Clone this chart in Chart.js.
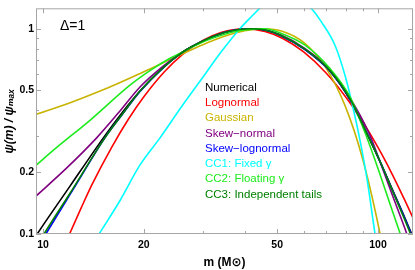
<!DOCTYPE html>
<html>
<head>
<meta charset="utf-8">
<script src="https://cdn.jsdelivr.net/npm/chart.js@4.4.1/dist/chart.umd.min.js"></script>
<style>
  html, body { margin: 0; padding: 0; background: #fff; }
</style>
</head>
<body>
<canvas id="chart" width="415" height="270"></canvas>
<script>
// values (m in solar masses, psi / psi_max)
const numericalM   = [9.3, 9.53, 12.04, 15.14, 17.2, 19.48, 22.8, 26.2, 30, 33, 36.2, 41.5, 46, 51, 60.6, 71.9, 82.5, 92.5, 101.4, 110, 120, 127];
const numericalPsi = [0.092, 0.098, 0.171, 0.294, 0.389, 0.497, 0.645, 0.772, 0.87, 0.93, 0.975, 1.0, 0.984, 0.93, 0.79, 0.62, 0.45, 0.31, 0.225, 0.167, 0.121, 0.097];

const lognormalM   = [11.5, 12, 13, 14, 16, 18, 20, 23, 26, 30, 34, 40, 46, 52, 60, 70, 80, 90, 100, 110, 120, 128];
const lognormalPsi = [0.085, 0.1, 0.134, 0.174, 0.263, 0.363, 0.466, 0.615, 0.745, 0.877, 0.959, 1.0, 0.969, 0.896, 0.77, 0.608, 0.466, 0.352, 0.264, 0.197, 0.147, 0.117];

const gaussianM   = [9.5, 12, 15, 20, 25, 30, 35, 40, 45.6, 52, 60, 70, 80, 90, 100, 105];
const gaussianPsi = [0.382, 0.435, 0.501, 0.617, 0.731, 0.836, 0.921, 0.977, 1.0, 0.97, 0.857, 0.643, 0.416, 0.232, 0.112, 0.074];

const skewNormalM   = [9.53, 11.71, 14.46, 16.75, 19.48, 22.8, 26.2, 30, 33, 36.2, 41.5, 46, 51, 60.6, 71.9, 82.5, 93.9, 101.4, 110, 120.4, 124];
const skewNormalPsi = [0.153, 0.208, 0.294, 0.387, 0.52, 0.655, 0.772, 0.872, 0.932, 0.976, 1.0, 0.986, 0.936, 0.8, 0.63, 0.46, 0.311, 0.225, 0.157, 0.106, 0.092];

const skewLogM   = [9.9, 10.2, 12.5, 15.3, 17.2, 19.48, 22.8, 26.2, 30, 33, 36.2, 41.5, 46, 51, 60.6, 71.9, 82.5, 92.5, 101.4, 110, 120, 127];
const skewLogPsi = [0.092, 0.1, 0.172, 0.294, 0.38, 0.495, 0.643, 0.771, 0.87, 0.93, 0.975, 1.0, 0.985, 0.93, 0.79, 0.62, 0.452, 0.312, 0.226, 0.166, 0.12, 0.096];

const cc1M   = [14, 14.7, 17, 19.48, 22.35, 26, 30, 34, 38.7, 42, 45, 48, 53, 58, 62.4, 68, 74.4, 80, 84, 88.4, 93, 98, 100];
const cc1Psi = [0.088, 0.1, 0.146, 0.217, 0.294, 0.42, 0.58, 0.77, 1.0, 1.15, 1.285, 1.39, 1.45, 1.395, 1.285, 1.07, 0.83, 0.58, 0.42, 0.285, 0.18, 0.1, 0.082];

const cc2M   = [9.4, 10.9, 13.81, 18.18, 20.86, 23.94, 26.2, 29, 32.17, 37.4, 43.5, 46, 51, 60.6, 71.9, 82.5, 91.5, 101.4, 108.6, 116.3, 120.4];
const cc2Psi = [0.212, 0.261, 0.358, 0.531, 0.625, 0.718, 0.772, 0.84, 0.9, 0.97, 0.998, 1.0, 0.955, 0.831, 0.639, 0.466, 0.311, 0.195, 0.14, 0.101, 0.086];

const cc3M   = [9.85, 10.07, 12.04, 15.3, 17.2, 19.48, 22.8, 26.2, 30, 33, 36.2, 41.5, 46, 51, 60.6, 71.9, 82.5, 92.5, 101.4, 110, 120, 127];
const cc3Psi = [0.094, 0.1, 0.158, 0.294, 0.381, 0.497, 0.645, 0.772, 0.871, 0.931, 0.975, 1.0, 0.985, 0.932, 0.795, 0.625, 0.455, 0.311, 0.226, 0.165, 0.118, 0.094];

const seriesNames = ['Numerical', 'Lognormal', 'Gaussian', 'Skew\u2212normal', 'Skew\u2212lognormal',
                     'CC1: Fixed \u03b3', 'CC2: Floating \u03b3', 'CC3: Independent tails'];
const seriesColors = ['#000000', '#ff0000', 'rgb(200,180,0)', 'rgb(128,0,128)', '#0000ff',
                      '#00ffff', 'rgb(30,235,30)', 'rgb(0,128,0)'];

const xTicks = [10, 20, 50, 100];
const xMinorTicks = [30, 40, 60, 70, 80, 90];
const yTicks = [0.1, 0.2, 0.5, 1];
const yMinorTicks = [0.3, 0.4, 0.6, 0.7, 0.8, 0.9];

const FONT = '"Liberation Sans", Arial, "DejaVu Sans", sans-serif';

function pts(ms, ps) {
  return ms.map((m, i) => ({ x: m, y: ps[i] }));
}

const allSeries = [
  [numericalM, numericalPsi], [lognormalM, lognormalPsi], [gaussianM, gaussianPsi],
  [skewNormalM, skewNormalPsi], [skewLogM, skewLogPsi], [cc1M, cc1Psi],
  [cc2M, cc2Psi], [cc3M, cc3Psi]
];

const datasets = allSeries.map((s, i) => ({
  label: seriesNames[i],
  data: pts(s[0], s[1]),
  borderColor: seriesColors[i],
  backgroundColor: seriesColors[i],
  borderWidth: 1.6,
  pointRadius: 0,
  fill: false,
  cubicInterpolationMode: 'monotone',
  order: 7 - i
}));

// frame with inward ticks, legend text and the Delta label
const framePlugin = {
  id: 'frame',
  afterDatasetsDraw(chart) {
    const { ctx, chartArea: a, scales } = chart;
    const xs = scales.x, ys = scales.y;
    ctx.save();
    ctx.strokeStyle = '#a6a6a6';
    ctx.lineWidth = 1;
    ctx.strokeRect(a.left + 0.5, a.top + 0.5, a.right - a.left - 1, a.bottom - a.top - 1);
    ctx.beginPath();
    const xt = (v, len) => {
      const px = Math.round(xs.getPixelForValue(v)) + 0.5;
      ctx.moveTo(px, a.bottom); ctx.lineTo(px, a.bottom - len);
      ctx.moveTo(px, a.top); ctx.lineTo(px, a.top + len);
    };
    const yt = (v, len) => {
      const py = Math.round(ys.getPixelForValue(v)) + 0.5;
      ctx.moveTo(a.left, py); ctx.lineTo(a.left + len, py);
      ctx.moveTo(a.right, py); ctx.lineTo(a.right - len, py);
    };
    xTicks.forEach(v => xt(v, 5));
    xMinorTicks.forEach(v => xt(v, 3));
    yTicks.forEach(v => yt(v, 5));
    yMinorTicks.forEach(v => yt(v, 3));
    ctx.stroke();
    ctx.restore();
  },
  afterDraw(chart) {
    const { ctx } = chart;
    ctx.save();
    ctx.textBaseline = 'middle';
    ctx.textAlign = 'left';
    ctx.font = '11.5px ' + FONT;
    chart.data.datasets.forEach((ds, i) => {
      ctx.fillStyle = ds.borderColor;
      ctx.fillText(ds.label, 205, 87.5 + i * 15.3);
    });
    ctx.fillStyle = '#000';
    ctx.font = '14px ' + FONT;
    ctx.fillText('\u0394=1', 60, 26);
    ctx.restore();
  }
};

new Chart(document.getElementById('chart'), {
  type: 'line',
  data: { datasets },
  options: {
    responsive: false,
    animation: false,
    layout: { padding: { top: 2, right: 2, left: 0, bottom: 0 } },
    plugins: { legend: { display: false }, tooltip: { enabled: false } },
    scales: {
      x: {
        type: 'logarithmic',
        min: 9.53,
        max: 127.2,
        grid: { display: false, drawTicks: false },
        border: { display: false },
        afterBuildTicks: (scale) => { scale.ticks = xTicks.map(v => ({ value: v })); },
        afterFit: (scale) => { scale.height = 36; },
        ticks: {
          padding: 5,
          color: '#000',
          autoSkip: false,
          maxRotation: 0,
          font: { family: FONT, size: 10.5, weight: 'bold' },
          callback: (v) => String(v)
        },
        title: {
          display: true,
          text: 'm (M\u2299)',
          color: '#000',
          padding: { top: 0, bottom: 0 },
          font: { family: FONT, size: 12, weight: 'bold' }
        }
      },
      y: {
        type: 'logarithmic',
        min: 0.1,
        max: 1.257,
        grid: { display: false, drawTicks: false },
        border: { display: false },
        afterBuildTicks: (scale) => { scale.ticks = yTicks.map(v => ({ value: v })); },
        afterFit: (scale) => { scale.width = 36; },
        ticks: {
          padding: 2,
          color: '#000',
          autoSkip: false,
          font: { family: FONT, size: 10.5, weight: 'bold' },
          callback: (v) => String(v)
        },
        title: {
          display: true,
          text: '\u03c8(m) / \u03c8\u2098\u2090\u2093',
          color: '#000',
          padding: { top: 2, bottom: 0 },
          font: { family: FONT, size: 12, weight: 'bold', style: 'italic' }
        }
      }
    }
  },
  plugins: [framePlugin]
});
</script>
</body>
</html>
